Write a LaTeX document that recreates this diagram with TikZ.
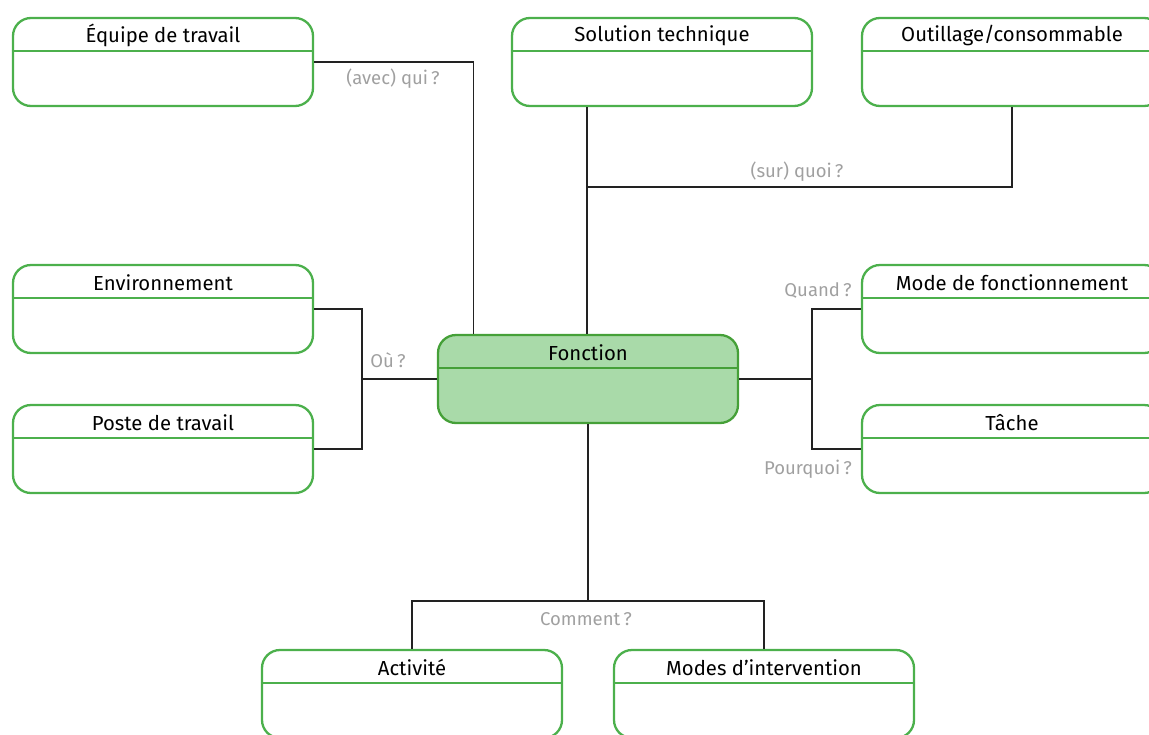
\documentclass[tikz,border=0pt]{standalone}
\usepackage{fontspec}
\setmainfont{Fira Sans}
\usetikzlibrary{calc}
\definecolor{boxgreen}{HTML}{4CB04C}
\definecolor{fungreen}{HTML}{A9DAA9}
\definecolor{fundark}{HTML}{45A038}
\definecolor{lblgray}{HTML}{A0A0A0}
\definecolor{linegray}{HTML}{222222}
\tikzset{
  cbox/.style={draw=boxgreen, line width=2.3pt, rounded corners=18pt, minimum width=300pt, minimum height=88pt, fill=white, inner sep=0pt},
  fbox/.style={cbox, draw=fundark, fill=fungreen},
  ttl/.style={font=\fontsize{20.3}{23}\selectfont, text=black, inner sep=0pt},
  qlbl/.style={font=\fontsize{18.5}{21}\selectfont, text=lblgray, inner sep=0pt},
  conn/.style={draw=linegray, line width=1.2pt},
}
\newcommand{\mkbox}[5]{%
  \node[#5] (#1) at (#2,#3) {};
  \draw[draw=#5color, line width=2.3pt] ($(#1.north west)+(0,34)$) -- ($(#1.north east)+(0,34)$);
  \node[ttl] (#1t) at ($(#1.north)+(0,19)$) {#4};
}
\begin{document}
\begin{tikzpicture}[x=1pt,y=-1pt]
\useasboundingbox (0,0) rectangle (1149,734);
\clip (0,0) rectangle (1149,734);
\colorlet{cboxcolor}{boxgreen}
\colorlet{fboxcolor}{fundark}
\coordinate (jl) at (362,379);
\coordinate (jr) at (812,379);
\coordinate (jt) at (587,187);
\coordinate (jb) at (588,601);
% boxes
\mkbox{eq}{163}{62}{Équipe de travail}{cbox}
\mkbox{sol}{662}{62}{Solution technique}{cbox}
\mkbox{out}{1012}{62}{Outillage/consommable}{cbox}
\mkbox{env}{163}{309}{Environnement}{cbox}
\mkbox{pos}{163}{449}{Poste de travail}{cbox}
\mkbox{fo}{588}{379}{Fonction}{fbox}
\mkbox{mode}{1012}{309}{Mode de fonctionnement}{cbox}
\mkbox{tac}{1012}{449}{Tâche}{cbox}
\mkbox{act}{412}{694}{Activité}{cbox}
\mkbox{mint}{764}{694}{Modes d’intervention}{cbox}
% connectors
\draw[conn] (eq.east) -| ($(fo.north west)+(36.5,0)$);
\draw[conn] (fo.north -| jt) -- (sol.south -| jt);
\draw[conn] (out.south) |- (jt);
\draw[conn] (env.east) -| (jl) |- (pos.east);
\draw[conn] (jl) -- (fo.west);
\draw[conn] (mode.west) -| (jr) |- (tac.west);
\draw[conn] (jr) -- (fo.east);
\draw[conn] (fo.south) -- (jb);
\draw[conn] (act.north) |- (jb) -| (mint.north);
% labels
\node[qlbl] (q1) at (393,79) {(avec) qui\,?};
\node[qlbl] (q2) at (797,172) {(sur) quoi\,?};
\node[qlbl] (q3) at (388,360) {Où\,?};
\node[qlbl] (q4) at (818,291) {Quand\,?};
\node[qlbl] (q5) at (808,469) {Pourquoi\,?};
\node[qlbl] (q6) at (586,619) {Comment\,?};
\end{tikzpicture}
\end{document}
